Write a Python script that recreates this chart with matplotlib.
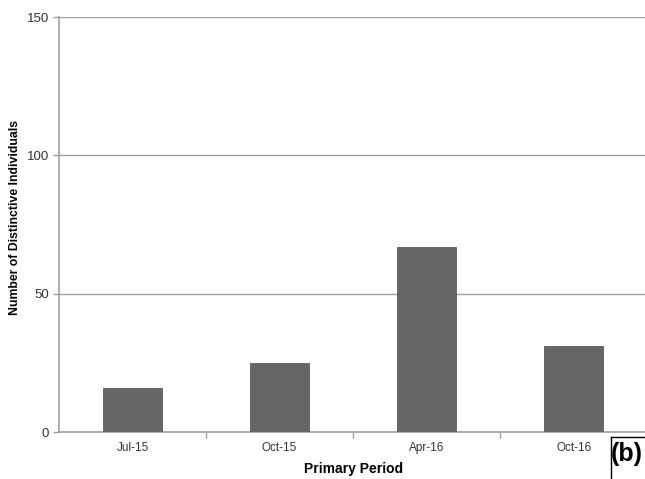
import matplotlib
matplotlib.use("Agg")
import matplotlib.pyplot as plt
import numpy as np

periods = ["Jul-15", "Oct-15", "Apr-16", "Oct-16"]
individuals = [16, 25, 67, 31]
y_ticks = [0, 50, 100, 150]

plt.rcParams["font.family"] = ["Liberation Sans", "DejaVu Sans"]

fig = plt.figure(figsize=(6.45, 4.79), dpi=100)
ax = fig.add_axes([0.0915, 0.0981, 0.912, 0.8664])

x = np.arange(len(periods))
ax.bar(x, individuals, width=0.4, color="#666666", edgecolor="#5a5a5a",
       linewidth=0.6, zorder=3)

ax.set_xlim(-0.5, len(periods) - 0.5)
ax.set_ylim(0, 150)
ax.set_yticks(y_ticks)
ax.yaxis.grid(True, color="#a0a0a0", linewidth=1.0, zorder=0)

# category tick marks sit between bars
ax.set_xticks(x)
ax.set_xticklabels(periods, fontsize=8.5, color="#333333")
ax.tick_params(axis="x", length=0, pad=7)
ax.set_xticks(np.arange(1, len(periods)) - 0.5, minor=True)
ax.tick_params(axis="x", which="minor", length=4, color="#a0a0a0", width=1)
ax.tick_params(axis="y", length=4, color="#a0a0a0", width=1,
               labelsize=9.5, labelcolor="#333333", pad=3)

for side in ("top", "right"):
    ax.spines[side].set_visible(False)
for side in ("left", "bottom"):
    ax.spines[side].set_color("#a0a0a0")
    ax.spines[side].set_linewidth(1.2)

ax.set_xlabel("Primary Period", fontsize=10, fontweight="bold", labelpad=6)
fig.text(0.024, 0.545, "Number of Distinctive Individuals", fontsize=8.8,
         fontweight="bold", rotation=90, ha="center", va="center")

# panel tag in the lower right corner
fig.text(0.997, 0.028, "(b)", fontsize=18, fontweight="bold",
         ha="right", va="bottom")
fig.add_artist(plt.Line2D([0.947, 0.947], [0.0, 0.087], color="black",
                          linewidth=1.0, transform=fig.transFigure))
fig.add_artist(plt.Line2D([0.947, 1.0], [0.087, 0.087], color="black",
                          linewidth=1.0, transform=fig.transFigure))

fig.savefig("out.png", dpi=100)
